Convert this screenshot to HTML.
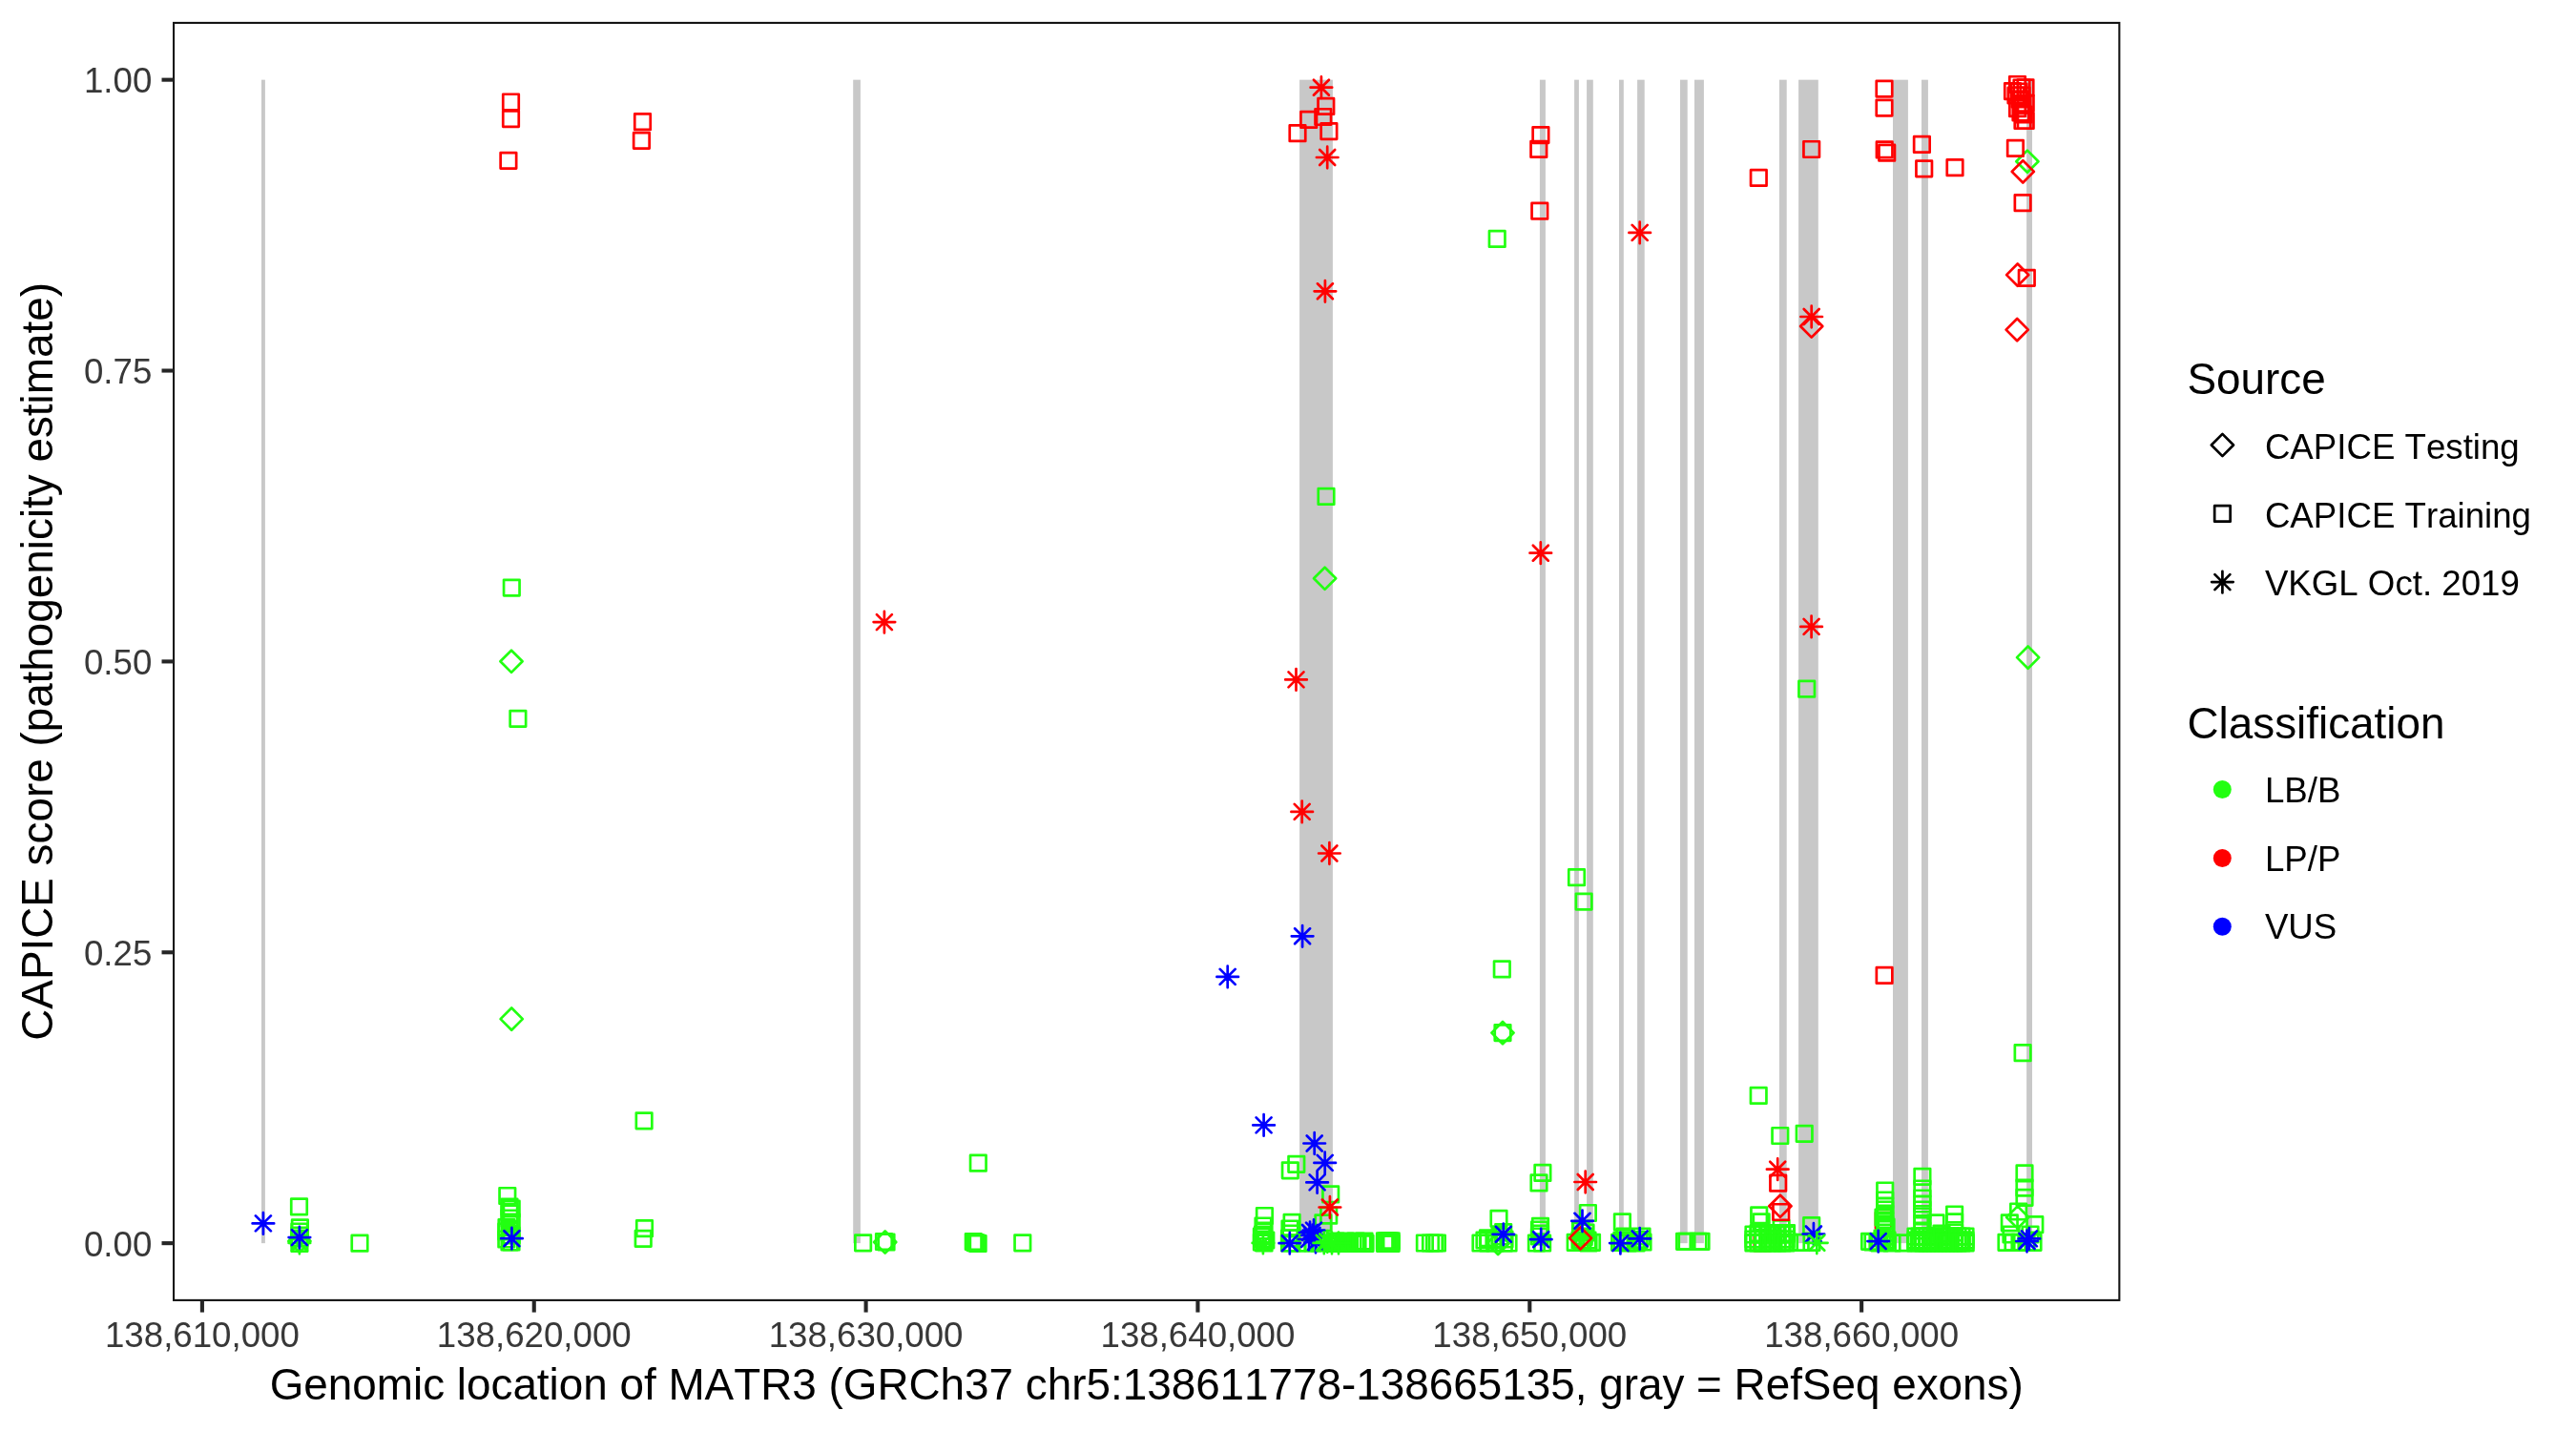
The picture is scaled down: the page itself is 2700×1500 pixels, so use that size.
<!DOCTYPE html>
<html><head><meta charset="utf-8"><title>CAPICE MATR3</title>
<style>
html,body{margin:0;padding:0;background:#fff;}
svg{display:block;will-change:transform;}
text{font-family:"Liberation Sans",sans-serif;font-kerning:none;font-feature-settings:"kern" 0;}
</style></head><body>
<svg width="2700" height="1500" viewBox="0 0 2700 1500">
<rect x="0" y="0" width="2700" height="1500" fill="#fff"/>

<g fill="#c8c8c8">
<rect x="274.0" y="83.65" width="3.90" height="1219.50"/>
<rect x="894.2" y="83.65" width="7.70" height="1219.50"/>
<rect x="1362.1" y="83.65" width="34.80" height="1219.50"/>
<rect x="1613.9" y="83.65" width="6.00" height="1219.50"/>
<rect x="1650.1" y="83.65" width="4.80" height="1219.50"/>
<rect x="1663.1" y="83.65" width="6.70" height="1219.50"/>
<rect x="1697.0" y="83.65" width="4.80" height="1219.50"/>
<rect x="1716.1" y="83.65" width="7.60" height="1219.50"/>
<rect x="1761.0" y="83.65" width="7.70" height="1219.50"/>
<rect x="1776.0" y="83.65" width="9.90" height="1219.50"/>
<rect x="1864.9" y="83.65" width="7.80" height="1219.50"/>
<rect x="1885.1" y="83.65" width="20.70" height="1219.50"/>
<rect x="1984.0" y="83.65" width="15.90" height="1219.50"/>
<rect x="2014.0" y="83.65" width="6.90" height="1219.50"/>
<rect x="2124.1" y="83.65" width="5.90" height="1219.50"/>
</g>
<g fill="none" stroke-width="2.7" stroke-linejoin="round" stroke-linecap="round">
<rect x="1965.95" y="1271.05" width="16.5" height="16.5" stroke="#ff0000"/>
<rect x="1838.75" y="1294.75" width="16.5" height="16.5" stroke="#ff0000"/>
<rect x="528.05" y="607.85" width="16.5" height="16.5" stroke="#22ff11"/>
<path d="M536.00 681.70L547.60 693.30L536.00 704.90L524.40 693.30Z" stroke="#22ff11"/>
<rect x="534.65" y="745.05" width="16.5" height="16.5" stroke="#22ff11"/>
<path d="M536.20 1056.50L547.80 1068.10L536.20 1079.70L524.60 1068.10Z" stroke="#22ff11"/>
<rect x="666.85" y="1166.55" width="16.5" height="16.5" stroke="#22ff11"/>
<rect x="305.25" y="1256.65" width="16.5" height="16.5" stroke="#22ff11"/>
<rect x="306.15" y="1278.55" width="16.5" height="16.5" stroke="#22ff11"/>
<rect x="305.65" y="1282.75" width="16.5" height="16.5" stroke="#22ff11"/>
<rect x="305.65" y="1286.75" width="16.5" height="16.5" stroke="#22ff11"/>
<rect x="305.65" y="1289.75" width="16.5" height="16.5" stroke="#22ff11"/>
<rect x="305.65" y="1295.15" width="16.5" height="16.5" stroke="#22ff11"/>
<path d="M313.90 1289.40L325.50 1301.00L313.90 1312.60L302.30 1301.00Z" stroke="#22ff11"/>
<path d="M302.60 1303.00H325.20M313.90 1291.70V1314.30M305.91 1295.01L321.89 1310.99M305.91 1310.99L321.89 1295.01" stroke="#22ff11"/>
<rect x="368.75" y="1294.95" width="16.5" height="16.5" stroke="#22ff11"/>
<rect x="523.55" y="1245.25" width="16.5" height="16.5" stroke="#22ff11"/>
<rect x="527.95" y="1258.75" width="16.5" height="16.5" stroke="#22ff11"/>
<rect x="525.75" y="1256.75" width="16.5" height="16.5" stroke="#22ff11"/>
<rect x="525.75" y="1263.75" width="16.5" height="16.5" stroke="#22ff11"/>
<rect x="525.75" y="1268.75" width="16.5" height="16.5" stroke="#22ff11"/>
<rect x="527.95" y="1272.75" width="16.5" height="16.5" stroke="#22ff11"/>
<rect x="522.75" y="1278.25" width="16.5" height="16.5" stroke="#22ff11"/>
<rect x="525.75" y="1281.75" width="16.5" height="16.5" stroke="#22ff11"/>
<rect x="527.95" y="1286.75" width="16.5" height="16.5" stroke="#22ff11"/>
<rect x="522.55" y="1282.75" width="16.5" height="16.5" stroke="#22ff11"/>
<rect x="522.55" y="1290.75" width="16.5" height="16.5" stroke="#22ff11"/>
<rect x="525.75" y="1293.75" width="16.5" height="16.5" stroke="#22ff11"/>
<rect x="527.75" y="1293.75" width="16.5" height="16.5" stroke="#22ff11"/>
<rect x="667.25" y="1279.45" width="16.5" height="16.5" stroke="#22ff11"/>
<rect x="665.95" y="1290.05" width="16.5" height="16.5" stroke="#22ff11"/>
<rect x="1017.05" y="1210.95" width="16.5" height="16.5" stroke="#22ff11"/>
<rect x="896.35" y="1294.55" width="16.5" height="16.5" stroke="#22ff11"/>
<rect x="918.25" y="1293.25" width="16.5" height="16.5" stroke="#22ff11"/>
<rect x="920.75" y="1293.75" width="16.5" height="16.5" stroke="#22ff11"/>
<path d="M927.70 1290.40L939.30 1302.00L927.70 1313.60L916.10 1302.00Z" stroke="#22ff11"/>
<rect x="1012.05" y="1293.25" width="16.5" height="16.5" stroke="#22ff11"/>
<rect x="1013.75" y="1294.25" width="16.5" height="16.5" stroke="#22ff11"/>
<rect x="1015.25" y="1294.75" width="16.5" height="16.5" stroke="#22ff11"/>
<rect x="1016.85" y="1295.25" width="16.5" height="16.5" stroke="#22ff11"/>
<rect x="1063.55" y="1294.55" width="16.5" height="16.5" stroke="#22ff11"/>
<rect x="1560.95" y="242.15" width="16.5" height="16.5" stroke="#22ff11"/>
<rect x="1381.75" y="512.15" width="16.5" height="16.5" stroke="#22ff11"/>
<path d="M1388.60 594.70L1400.20 606.30L1388.60 617.90L1377.00 606.30Z" stroke="#22ff11"/>
<rect x="1644.25" y="911.45" width="16.5" height="16.5" stroke="#22ff11"/>
<rect x="1651.85" y="936.85" width="16.5" height="16.5" stroke="#22ff11"/>
<rect x="1566.05" y="1007.65" width="16.5" height="16.5" stroke="#22ff11"/>
<rect x="1566.75" y="1074.35" width="16.5" height="16.5" stroke="#22ff11"/>
<path d="M1575.00 1071.00L1586.60 1082.60L1575.00 1094.20L1563.40 1082.60Z" stroke="#22ff11"/>
<path d="M2124.90 157.60L2136.50 169.20L2124.90 180.80L2113.30 169.20Z" stroke="#22ff11"/>
<rect x="1885.45" y="713.95" width="16.5" height="16.5" stroke="#22ff11"/>
<path d="M2125.60 677.50L2137.20 689.10L2125.60 700.70L2114.00 689.10Z" stroke="#22ff11"/>
<rect x="2111.85" y="1095.45" width="16.5" height="16.5" stroke="#22ff11"/>
<rect x="1834.95" y="1140.15" width="16.5" height="16.5" stroke="#22ff11"/>
<rect x="1857.55" y="1182.25" width="16.5" height="16.5" stroke="#22ff11"/>
<rect x="1882.95" y="1180.05" width="16.5" height="16.5" stroke="#22ff11"/>
<rect x="1350.55" y="1212.05" width="16.5" height="16.5" stroke="#22ff11"/>
<rect x="1344.05" y="1218.55" width="16.5" height="16.5" stroke="#22ff11"/>
<rect x="1386.45" y="1243.65" width="16.5" height="16.5" stroke="#22ff11"/>
<rect x="1384.45" y="1265.95" width="16.5" height="16.5" stroke="#22ff11"/>
<rect x="1378.65" y="1273.65" width="16.5" height="16.5" stroke="#22ff11"/>
<rect x="1317.15" y="1266.25" width="16.5" height="16.5" stroke="#22ff11"/>
<rect x="1315.75" y="1276.75" width="16.5" height="16.5" stroke="#22ff11"/>
<rect x="1316.75" y="1281.75" width="16.5" height="16.5" stroke="#22ff11"/>
<rect x="1315.25" y="1285.75" width="16.5" height="16.5" stroke="#22ff11"/>
<rect x="1315.75" y="1290.75" width="16.5" height="16.5" stroke="#22ff11"/>
<rect x="1316.75" y="1294.75" width="16.5" height="16.5" stroke="#22ff11"/>
<rect x="1314.15" y="1293.75" width="16.5" height="16.5" stroke="#22ff11"/>
<rect x="1318.55" y="1291.75" width="16.5" height="16.5" stroke="#22ff11"/>
<rect x="1314.15" y="1287.75" width="16.5" height="16.5" stroke="#22ff11"/>
<path d="M1312.60 1302.90H1335.20M1323.90 1291.60V1314.20M1315.91 1294.91L1331.89 1310.89M1315.91 1310.89L1331.89 1294.91" stroke="#22ff11"/>
<rect x="1345.85" y="1273.15" width="16.5" height="16.5" stroke="#22ff11"/>
<rect x="1343.75" y="1279.75" width="16.5" height="16.5" stroke="#22ff11"/>
<rect x="1344.75" y="1284.75" width="16.5" height="16.5" stroke="#22ff11"/>
<rect x="1343.25" y="1289.75" width="16.5" height="16.5" stroke="#22ff11"/>
<rect x="1345.75" y="1294.75" width="16.5" height="16.5" stroke="#22ff11"/>
<rect x="1343.25" y="1294.75" width="16.5" height="16.5" stroke="#22ff11"/>
<rect x="1351.75" y="1294.75" width="16.5" height="16.5" stroke="#22ff11"/>
<rect x="1359.75" y="1294.75" width="16.5" height="16.5" stroke="#22ff11"/>
<rect x="1367.75" y="1294.75" width="16.5" height="16.5" stroke="#22ff11"/>
<rect x="1374.75" y="1294.75" width="16.5" height="16.5" stroke="#22ff11"/>
<rect x="1389.75" y="1295.05" width="16.5" height="16.5" stroke="#22ff11"/>
<rect x="1394.75" y="1295.05" width="16.5" height="16.5" stroke="#22ff11"/>
<rect x="1399.75" y="1295.05" width="16.5" height="16.5" stroke="#22ff11"/>
<rect x="1404.75" y="1295.05" width="16.5" height="16.5" stroke="#22ff11"/>
<rect x="1409.75" y="1295.05" width="16.5" height="16.5" stroke="#22ff11"/>
<rect x="1414.75" y="1295.05" width="16.5" height="16.5" stroke="#22ff11"/>
<rect x="1419.75" y="1295.05" width="16.5" height="16.5" stroke="#22ff11"/>
<rect x="1422.75" y="1295.05" width="16.5" height="16.5" stroke="#22ff11"/>
<rect x="1391.75" y="1292.75" width="16.5" height="16.5" stroke="#22ff11"/>
<rect x="1401.75" y="1292.75" width="16.5" height="16.5" stroke="#22ff11"/>
<rect x="1412.75" y="1292.75" width="16.5" height="16.5" stroke="#22ff11"/>
<rect x="1421.75" y="1292.75" width="16.5" height="16.5" stroke="#22ff11"/>
<path d="M1391.70 1303.00H1414.30M1403.00 1291.70V1314.30M1395.01 1295.01L1410.99 1310.99M1395.01 1310.99L1410.99 1295.01" stroke="#22ff11"/>
<rect x="1443.25" y="1292.55" width="16.5" height="16.5" stroke="#22ff11"/>
<rect x="1443.25" y="1295.05" width="16.5" height="16.5" stroke="#22ff11"/>
<rect x="1445.25" y="1292.55" width="16.5" height="16.5" stroke="#22ff11"/>
<rect x="1445.25" y="1295.05" width="16.5" height="16.5" stroke="#22ff11"/>
<rect x="1447.75" y="1292.55" width="16.5" height="16.5" stroke="#22ff11"/>
<rect x="1447.75" y="1295.05" width="16.5" height="16.5" stroke="#22ff11"/>
<rect x="1449.95" y="1292.55" width="16.5" height="16.5" stroke="#22ff11"/>
<rect x="1449.95" y="1295.05" width="16.5" height="16.5" stroke="#22ff11"/>
<rect x="1485.15" y="1294.75" width="16.5" height="16.5" stroke="#22ff11"/>
<rect x="1491.25" y="1294.75" width="16.5" height="16.5" stroke="#22ff11"/>
<rect x="1495.25" y="1294.75" width="16.5" height="16.5" stroke="#22ff11"/>
<rect x="1498.15" y="1294.75" width="16.5" height="16.5" stroke="#22ff11"/>
<rect x="1562.75" y="1269.05" width="16.5" height="16.5" stroke="#22ff11"/>
<rect x="1543.75" y="1294.75" width="16.5" height="16.5" stroke="#22ff11"/>
<rect x="1551.75" y="1294.75" width="16.5" height="16.5" stroke="#22ff11"/>
<rect x="1558.75" y="1294.75" width="16.5" height="16.5" stroke="#22ff11"/>
<rect x="1568.05" y="1294.75" width="16.5" height="16.5" stroke="#22ff11"/>
<rect x="1551.25" y="1289.55" width="16.5" height="16.5" stroke="#22ff11"/>
<rect x="1567.45" y="1283.35" width="16.5" height="16.5" stroke="#22ff11"/>
<rect x="1563.75" y="1287.75" width="16.5" height="16.5" stroke="#22ff11"/>
<rect x="1568.75" y="1290.75" width="16.5" height="16.5" stroke="#22ff11"/>
<rect x="1572.75" y="1294.75" width="16.5" height="16.5" stroke="#22ff11"/>
<rect x="1557.75" y="1291.75" width="16.5" height="16.5" stroke="#22ff11"/>
<rect x="1547.75" y="1291.75" width="16.5" height="16.5" stroke="#22ff11"/>
<path d="M1570.10 1291.80L1581.70 1303.40L1570.10 1315.00L1558.50 1303.40Z" stroke="#22ff11"/>
<rect x="1608.65" y="1221.15" width="16.5" height="16.5" stroke="#22ff11"/>
<rect x="1604.75" y="1231.65" width="16.5" height="16.5" stroke="#22ff11"/>
<rect x="1606.25" y="1277.15" width="16.5" height="16.5" stroke="#22ff11"/>
<rect x="1605.25" y="1280.75" width="16.5" height="16.5" stroke="#22ff11"/>
<rect x="1606.25" y="1284.75" width="16.5" height="16.5" stroke="#22ff11"/>
<rect x="1602.15" y="1294.75" width="16.5" height="16.5" stroke="#22ff11"/>
<rect x="1608.35" y="1294.75" width="16.5" height="16.5" stroke="#22ff11"/>
<rect x="1605.25" y="1287.75" width="16.5" height="16.5" stroke="#22ff11"/>
<rect x="1656.15" y="1263.25" width="16.5" height="16.5" stroke="#22ff11"/>
<rect x="1648.25" y="1280.35" width="16.5" height="16.5" stroke="#22ff11"/>
<rect x="1642.95" y="1294.05" width="16.5" height="16.5" stroke="#22ff11"/>
<rect x="1647.75" y="1291.75" width="16.5" height="16.5" stroke="#22ff11"/>
<rect x="1651.75" y="1288.75" width="16.5" height="16.5" stroke="#22ff11"/>
<rect x="1655.75" y="1291.75" width="16.5" height="16.5" stroke="#22ff11"/>
<rect x="1660.25" y="1294.05" width="16.5" height="16.5" stroke="#22ff11"/>
<rect x="1653.75" y="1283.75" width="16.5" height="16.5" stroke="#22ff11"/>
<rect x="1648.75" y="1281.75" width="16.5" height="16.5" stroke="#22ff11"/>
<rect x="1650.25" y="1294.05" width="16.5" height="16.5" stroke="#22ff11"/>
<rect x="1656.75" y="1294.75" width="16.5" height="16.5" stroke="#22ff11"/>
<rect x="1651.75" y="1287.75" width="16.5" height="16.5" stroke="#22ff11"/>
<rect x="1692.15" y="1272.55" width="16.5" height="16.5" stroke="#22ff11"/>
<rect x="1689.35" y="1294.05" width="16.5" height="16.5" stroke="#22ff11"/>
<rect x="1696.75" y="1294.05" width="16.5" height="16.5" stroke="#22ff11"/>
<rect x="1709.95" y="1291.15" width="16.5" height="16.5" stroke="#22ff11"/>
<rect x="1713.75" y="1293.75" width="16.5" height="16.5" stroke="#22ff11"/>
<rect x="1694.75" y="1287.75" width="16.5" height="16.5" stroke="#22ff11"/>
<rect x="1701.75" y="1291.75" width="16.5" height="16.5" stroke="#22ff11"/>
<rect x="1706.75" y="1294.75" width="16.5" height="16.5" stroke="#22ff11"/>
<rect x="1697.75" y="1294.75" width="16.5" height="16.5" stroke="#22ff11"/>
<rect x="1712.75" y="1287.75" width="16.5" height="16.5" stroke="#22ff11"/>
<rect x="1691.75" y="1291.75" width="16.5" height="16.5" stroke="#22ff11"/>
<rect x="1757.35" y="1293.05" width="16.5" height="16.5" stroke="#22ff11"/>
<rect x="1759.75" y="1293.05" width="16.5" height="16.5" stroke="#22ff11"/>
<rect x="1771.75" y="1293.05" width="16.5" height="16.5" stroke="#22ff11"/>
<rect x="1774.75" y="1293.05" width="16.5" height="16.5" stroke="#22ff11"/>
<rect x="1835.45" y="1265.65" width="16.5" height="16.5" stroke="#22ff11"/>
<rect x="1837.85" y="1272.55" width="16.5" height="16.5" stroke="#22ff11"/>
<rect x="1858.85" y="1279.35" width="16.5" height="16.5" stroke="#22ff11"/>
<rect x="1830.05" y="1294.05" width="16.5" height="16.5" stroke="#22ff11"/>
<rect x="1839.85" y="1294.05" width="16.5" height="16.5" stroke="#22ff11"/>
<rect x="1849.55" y="1294.05" width="16.5" height="16.5" stroke="#22ff11"/>
<rect x="1859.35" y="1294.05" width="16.5" height="16.5" stroke="#22ff11"/>
<rect x="1867.25" y="1294.05" width="16.5" height="16.5" stroke="#22ff11"/>
<rect x="1834.95" y="1284.25" width="16.5" height="16.5" stroke="#22ff11"/>
<rect x="1844.75" y="1284.25" width="16.5" height="16.5" stroke="#22ff11"/>
<rect x="1853.75" y="1284.25" width="16.5" height="16.5" stroke="#22ff11"/>
<rect x="1864.25" y="1284.25" width="16.5" height="16.5" stroke="#22ff11"/>
<rect x="1829.75" y="1285.75" width="16.5" height="16.5" stroke="#22ff11"/>
<rect x="1829.75" y="1290.75" width="16.5" height="16.5" stroke="#22ff11"/>
<rect x="1829.75" y="1294.75" width="16.5" height="16.5" stroke="#22ff11"/>
<rect x="1834.75" y="1285.75" width="16.5" height="16.5" stroke="#22ff11"/>
<rect x="1834.75" y="1290.75" width="16.5" height="16.5" stroke="#22ff11"/>
<rect x="1834.75" y="1294.75" width="16.5" height="16.5" stroke="#22ff11"/>
<rect x="1839.75" y="1285.75" width="16.5" height="16.5" stroke="#22ff11"/>
<rect x="1839.75" y="1290.75" width="16.5" height="16.5" stroke="#22ff11"/>
<rect x="1839.75" y="1294.75" width="16.5" height="16.5" stroke="#22ff11"/>
<rect x="1844.75" y="1285.75" width="16.5" height="16.5" stroke="#22ff11"/>
<rect x="1844.75" y="1290.75" width="16.5" height="16.5" stroke="#22ff11"/>
<rect x="1844.75" y="1294.75" width="16.5" height="16.5" stroke="#22ff11"/>
<rect x="1849.75" y="1285.75" width="16.5" height="16.5" stroke="#22ff11"/>
<rect x="1849.75" y="1290.75" width="16.5" height="16.5" stroke="#22ff11"/>
<rect x="1849.75" y="1294.75" width="16.5" height="16.5" stroke="#22ff11"/>
<rect x="1854.75" y="1285.75" width="16.5" height="16.5" stroke="#22ff11"/>
<rect x="1854.75" y="1290.75" width="16.5" height="16.5" stroke="#22ff11"/>
<rect x="1854.75" y="1294.75" width="16.5" height="16.5" stroke="#22ff11"/>
<rect x="1859.75" y="1285.75" width="16.5" height="16.5" stroke="#22ff11"/>
<rect x="1859.75" y="1290.75" width="16.5" height="16.5" stroke="#22ff11"/>
<rect x="1859.75" y="1294.75" width="16.5" height="16.5" stroke="#22ff11"/>
<rect x="1863.75" y="1285.75" width="16.5" height="16.5" stroke="#22ff11"/>
<rect x="1863.75" y="1290.75" width="16.5" height="16.5" stroke="#22ff11"/>
<rect x="1863.75" y="1294.75" width="16.5" height="16.5" stroke="#22ff11"/>
<rect x="1878.95" y="1294.05" width="16.5" height="16.5" stroke="#22ff11"/>
<rect x="1890.75" y="1294.05" width="16.5" height="16.5" stroke="#22ff11"/>
<rect x="1890.45" y="1276.45" width="16.5" height="16.5" stroke="#22ff11"/>
<rect x="1951.35" y="1293.05" width="16.5" height="16.5" stroke="#22ff11"/>
<rect x="1967.45" y="1239.75" width="16.5" height="16.5" stroke="#22ff11"/>
<rect x="1967.45" y="1249.75" width="16.5" height="16.5" stroke="#22ff11"/>
<rect x="1967.45" y="1255.75" width="16.5" height="16.5" stroke="#22ff11"/>
<rect x="1967.45" y="1259.75" width="16.5" height="16.5" stroke="#22ff11"/>
<rect x="1967.45" y="1263.75" width="16.5" height="16.5" stroke="#22ff11"/>
<rect x="1967.45" y="1274.75" width="16.5" height="16.5" stroke="#22ff11"/>
<rect x="1967.45" y="1279.75" width="16.5" height="16.5" stroke="#22ff11"/>
<rect x="1967.45" y="1283.75" width="16.5" height="16.5" stroke="#22ff11"/>
<rect x="1967.45" y="1287.75" width="16.5" height="16.5" stroke="#22ff11"/>
<rect x="1967.45" y="1293.75" width="16.5" height="16.5" stroke="#22ff11"/>
<rect x="1965.75" y="1267.75" width="16.5" height="16.5" stroke="#22ff11"/>
<rect x="1968.75" y="1277.75" width="16.5" height="16.5" stroke="#22ff11"/>
<rect x="1964.75" y="1289.75" width="16.5" height="16.5" stroke="#22ff11"/>
<rect x="1969.75" y="1291.75" width="16.5" height="16.5" stroke="#22ff11"/>
<rect x="1974.75" y="1294.75" width="16.5" height="16.5" stroke="#22ff11"/>
<rect x="1954.75" y="1293.75" width="16.5" height="16.5" stroke="#22ff11"/>
<rect x="1961.75" y="1294.75" width="16.5" height="16.5" stroke="#22ff11"/>
<rect x="1967.45" y="1270.75" width="16.5" height="16.5" stroke="#22ff11"/>
<rect x="1959.75" y="1293.75" width="16.5" height="16.5" stroke="#22ff11"/>
<rect x="1986.55" y="1294.55" width="16.5" height="16.5" stroke="#22ff11"/>
<rect x="2006.65" y="1225.05" width="16.5" height="16.5" stroke="#22ff11"/>
<rect x="2006.65" y="1237.75" width="16.5" height="16.5" stroke="#22ff11"/>
<rect x="2006.65" y="1247.75" width="16.5" height="16.5" stroke="#22ff11"/>
<rect x="2006.65" y="1253.75" width="16.5" height="16.5" stroke="#22ff11"/>
<rect x="2006.65" y="1259.75" width="16.5" height="16.5" stroke="#22ff11"/>
<rect x="2006.65" y="1266.75" width="16.5" height="16.5" stroke="#22ff11"/>
<rect x="2006.65" y="1274.45" width="16.5" height="16.5" stroke="#22ff11"/>
<rect x="2006.65" y="1281.75" width="16.5" height="16.5" stroke="#22ff11"/>
<rect x="2006.65" y="1287.75" width="16.5" height="16.5" stroke="#22ff11"/>
<rect x="2006.65" y="1294.05" width="16.5" height="16.5" stroke="#22ff11"/>
<rect x="1999.75" y="1287.75" width="16.5" height="16.5" stroke="#22ff11"/>
<rect x="1999.75" y="1291.75" width="16.5" height="16.5" stroke="#22ff11"/>
<rect x="1999.75" y="1294.75" width="16.5" height="16.5" stroke="#22ff11"/>
<rect x="2003.75" y="1287.75" width="16.5" height="16.5" stroke="#22ff11"/>
<rect x="2003.75" y="1291.75" width="16.5" height="16.5" stroke="#22ff11"/>
<rect x="2003.75" y="1294.75" width="16.5" height="16.5" stroke="#22ff11"/>
<rect x="2007.75" y="1287.75" width="16.5" height="16.5" stroke="#22ff11"/>
<rect x="2007.75" y="1291.75" width="16.5" height="16.5" stroke="#22ff11"/>
<rect x="2007.75" y="1294.75" width="16.5" height="16.5" stroke="#22ff11"/>
<rect x="2011.75" y="1287.75" width="16.5" height="16.5" stroke="#22ff11"/>
<rect x="2011.75" y="1291.75" width="16.5" height="16.5" stroke="#22ff11"/>
<rect x="2011.75" y="1294.75" width="16.5" height="16.5" stroke="#22ff11"/>
<rect x="2015.75" y="1287.75" width="16.5" height="16.5" stroke="#22ff11"/>
<rect x="2015.75" y="1291.75" width="16.5" height="16.5" stroke="#22ff11"/>
<rect x="2015.75" y="1294.75" width="16.5" height="16.5" stroke="#22ff11"/>
<rect x="2019.75" y="1287.75" width="16.5" height="16.5" stroke="#22ff11"/>
<rect x="2019.75" y="1291.75" width="16.5" height="16.5" stroke="#22ff11"/>
<rect x="2019.75" y="1294.75" width="16.5" height="16.5" stroke="#22ff11"/>
<rect x="2023.75" y="1287.75" width="16.5" height="16.5" stroke="#22ff11"/>
<rect x="2023.75" y="1291.75" width="16.5" height="16.5" stroke="#22ff11"/>
<rect x="2023.75" y="1294.75" width="16.5" height="16.5" stroke="#22ff11"/>
<rect x="2027.75" y="1287.75" width="16.5" height="16.5" stroke="#22ff11"/>
<rect x="2027.75" y="1291.75" width="16.5" height="16.5" stroke="#22ff11"/>
<rect x="2027.75" y="1294.75" width="16.5" height="16.5" stroke="#22ff11"/>
<rect x="2031.75" y="1287.75" width="16.5" height="16.5" stroke="#22ff11"/>
<rect x="2031.75" y="1291.75" width="16.5" height="16.5" stroke="#22ff11"/>
<rect x="2031.75" y="1294.75" width="16.5" height="16.5" stroke="#22ff11"/>
<rect x="2035.75" y="1287.75" width="16.5" height="16.5" stroke="#22ff11"/>
<rect x="2035.75" y="1291.75" width="16.5" height="16.5" stroke="#22ff11"/>
<rect x="2035.75" y="1294.75" width="16.5" height="16.5" stroke="#22ff11"/>
<rect x="2039.75" y="1287.75" width="16.5" height="16.5" stroke="#22ff11"/>
<rect x="2039.75" y="1291.75" width="16.5" height="16.5" stroke="#22ff11"/>
<rect x="2039.75" y="1294.75" width="16.5" height="16.5" stroke="#22ff11"/>
<rect x="2043.75" y="1287.75" width="16.5" height="16.5" stroke="#22ff11"/>
<rect x="2043.75" y="1291.75" width="16.5" height="16.5" stroke="#22ff11"/>
<rect x="2043.75" y="1294.75" width="16.5" height="16.5" stroke="#22ff11"/>
<rect x="2047.75" y="1287.75" width="16.5" height="16.5" stroke="#22ff11"/>
<rect x="2047.75" y="1291.75" width="16.5" height="16.5" stroke="#22ff11"/>
<rect x="2047.75" y="1294.75" width="16.5" height="16.5" stroke="#22ff11"/>
<rect x="2051.75" y="1287.75" width="16.5" height="16.5" stroke="#22ff11"/>
<rect x="2051.75" y="1291.75" width="16.5" height="16.5" stroke="#22ff11"/>
<rect x="2051.75" y="1294.75" width="16.5" height="16.5" stroke="#22ff11"/>
<rect x="2020.75" y="1273.55" width="16.5" height="16.5" stroke="#22ff11"/>
<rect x="2040.35" y="1264.75" width="16.5" height="16.5" stroke="#22ff11"/>
<rect x="2040.35" y="1272.55" width="16.5" height="16.5" stroke="#22ff11"/>
<rect x="2040.35" y="1283.75" width="16.5" height="16.5" stroke="#22ff11"/>
<rect x="2040.35" y="1294.05" width="16.5" height="16.5" stroke="#22ff11"/>
<rect x="1999.75" y="1294.05" width="16.5" height="16.5" stroke="#22ff11"/>
<rect x="2011.75" y="1294.05" width="16.5" height="16.5" stroke="#22ff11"/>
<rect x="2016.75" y="1294.05" width="16.5" height="16.5" stroke="#22ff11"/>
<rect x="2023.75" y="1294.05" width="16.5" height="16.5" stroke="#22ff11"/>
<rect x="2029.75" y="1294.05" width="16.5" height="16.5" stroke="#22ff11"/>
<rect x="2033.75" y="1294.05" width="16.5" height="16.5" stroke="#22ff11"/>
<rect x="2046.75" y="1294.05" width="16.5" height="16.5" stroke="#22ff11"/>
<rect x="2051.75" y="1294.05" width="16.5" height="16.5" stroke="#22ff11"/>
<rect x="2026.75" y="1284.75" width="16.5" height="16.5" stroke="#22ff11"/>
<rect x="2113.75" y="1221.65" width="16.5" height="16.5" stroke="#22ff11"/>
<rect x="2113.75" y="1236.85" width="16.5" height="16.5" stroke="#22ff11"/>
<rect x="2113.75" y="1247.05" width="16.5" height="16.5" stroke="#22ff11"/>
<rect x="2107.35" y="1261.75" width="16.5" height="16.5" stroke="#22ff11"/>
<rect x="2098.05" y="1273.55" width="16.5" height="16.5" stroke="#22ff11"/>
<rect x="2124.55" y="1275.45" width="16.5" height="16.5" stroke="#22ff11"/>
<path d="M2114.70 1264.40L2126.30 1276.00L2114.70 1287.60L2103.10 1276.00Z" stroke="#22ff11"/>
<rect x="2094.75" y="1294.05" width="16.5" height="16.5" stroke="#22ff11"/>
<rect x="2101.75" y="1294.05" width="16.5" height="16.5" stroke="#22ff11"/>
<rect x="2108.75" y="1294.05" width="16.5" height="16.5" stroke="#22ff11"/>
<rect x="2115.75" y="1294.05" width="16.5" height="16.5" stroke="#22ff11"/>
<rect x="2122.75" y="1294.05" width="16.5" height="16.5" stroke="#22ff11"/>
<rect x="2099.75" y="1285.75" width="16.5" height="16.5" stroke="#22ff11"/>
<rect x="2119.75" y="1285.75" width="16.5" height="16.5" stroke="#22ff11"/>
<rect x="527.25" y="98.75" width="16.5" height="16.5" stroke="#ff0000"/>
<rect x="527.25" y="116.35" width="16.5" height="16.5" stroke="#ff0000"/>
<rect x="524.65" y="160.05" width="16.5" height="16.5" stroke="#ff0000"/>
<rect x="665.25" y="119.45" width="16.5" height="16.5" stroke="#ff0000"/>
<rect x="664.15" y="139.05" width="16.5" height="16.5" stroke="#ff0000"/>
<path d="M915.60 652.10H938.20M926.90 640.80V663.40M918.91 644.11L934.89 660.09M918.91 660.09L934.89 644.11" stroke="#ff0000"/>
<path d="M1373.60 91.70H1396.20M1384.90 80.40V103.00M1376.91 83.71L1392.89 99.69M1376.91 99.69L1392.89 83.71" stroke="#ff0000"/>
<rect x="1381.55" y="103.15" width="16.5" height="16.5" stroke="#ff0000"/>
<rect x="1363.45" y="117.15" width="16.5" height="16.5" stroke="#ff0000"/>
<rect x="1378.55" y="114.25" width="16.5" height="16.5" stroke="#ff0000"/>
<rect x="1351.75" y="131.45" width="16.5" height="16.5" stroke="#ff0000"/>
<rect x="1384.65" y="129.35" width="16.5" height="16.5" stroke="#ff0000"/>
<path d="M1379.90 165.00H1402.50M1391.20 153.70V176.30M1383.21 157.01L1399.19 172.99M1383.21 172.99L1399.19 157.01" stroke="#ff0000"/>
<path d="M1377.60 305.30H1400.20M1388.90 294.00V316.60M1380.91 297.31L1396.89 313.29M1380.91 313.29L1396.89 297.31" stroke="#ff0000"/>
<rect x="1606.65" y="133.35" width="16.5" height="16.5" stroke="#ff0000"/>
<rect x="1604.55" y="148.15" width="16.5" height="16.5" stroke="#ff0000"/>
<rect x="1605.55" y="212.95" width="16.5" height="16.5" stroke="#ff0000"/>
<path d="M1707.40 243.90H1730.00M1718.70 232.60V255.20M1710.71 235.91L1726.69 251.89M1710.71 251.89L1726.69 235.91" stroke="#ff0000"/>
<path d="M1603.50 579.70H1626.10M1614.80 568.40V591.00M1606.81 571.71L1622.79 587.69M1606.81 587.69L1622.79 571.71" stroke="#ff0000"/>
<path d="M1347.20 712.40H1369.80M1358.50 701.10V723.70M1350.51 704.41L1366.49 720.39M1350.51 720.39L1366.49 704.41" stroke="#ff0000"/>
<path d="M1353.40 850.90H1376.00M1364.70 839.60V862.20M1356.71 842.91L1372.69 858.89M1356.71 858.89L1372.69 842.91" stroke="#ff0000"/>
<path d="M1382.10 894.50H1404.70M1393.40 883.20V905.80M1385.41 886.51L1401.39 902.49M1385.41 902.49L1401.39 886.51" stroke="#ff0000"/>
<rect x="1835.05" y="178.15" width="16.5" height="16.5" stroke="#ff0000"/>
<rect x="1890.45" y="148.25" width="16.5" height="16.5" stroke="#ff0000"/>
<rect x="1966.75" y="84.85" width="16.5" height="16.5" stroke="#ff0000"/>
<rect x="1966.75" y="104.85" width="16.5" height="16.5" stroke="#ff0000"/>
<rect x="1966.95" y="148.65" width="16.5" height="16.5" stroke="#ff0000"/>
<rect x="1969.45" y="151.95" width="16.5" height="16.5" stroke="#ff0000"/>
<rect x="2006.15" y="143.15" width="16.5" height="16.5" stroke="#ff0000"/>
<rect x="2008.45" y="168.55" width="16.5" height="16.5" stroke="#ff0000"/>
<rect x="2040.75" y="167.45" width="16.5" height="16.5" stroke="#ff0000"/>
<rect x="2106.25" y="80.25" width="16.5" height="16.5" stroke="#ff0000"/>
<rect x="2114.75" y="83.55" width="16.5" height="16.5" stroke="#ff0000"/>
<rect x="2101.25" y="87.35" width="16.5" height="16.5" stroke="#ff0000"/>
<rect x="2114.95" y="100.05" width="16.5" height="16.5" stroke="#ff0000"/>
<rect x="2106.35" y="105.45" width="16.5" height="16.5" stroke="#ff0000"/>
<rect x="2114.95" y="118.25" width="16.5" height="16.5" stroke="#ff0000"/>
<rect x="2111.75" y="118.25" width="16.5" height="16.5" stroke="#ff0000"/>
<rect x="2107.75" y="87.75" width="16.5" height="16.5" stroke="#ff0000"/>
<rect x="2110.75" y="91.75" width="16.5" height="16.5" stroke="#ff0000"/>
<rect x="2108.75" y="95.75" width="16.5" height="16.5" stroke="#ff0000"/>
<rect x="2111.75" y="101.75" width="16.5" height="16.5" stroke="#ff0000"/>
<rect x="2109.75" y="109.75" width="16.5" height="16.5" stroke="#ff0000"/>
<rect x="2112.75" y="111.75" width="16.5" height="16.5" stroke="#ff0000"/>
<rect x="2110.75" y="83.75" width="16.5" height="16.5" stroke="#ff0000"/>
<rect x="2104.75" y="91.75" width="16.5" height="16.5" stroke="#ff0000"/>
<rect x="2104.15" y="147.15" width="16.5" height="16.5" stroke="#ff0000"/>
<rect x="2111.85" y="204.45" width="16.5" height="16.5" stroke="#ff0000"/>
<rect x="2116.05" y="283.05" width="16.5" height="16.5" stroke="#ff0000"/>
<path d="M2120.30 168.30L2131.90 179.90L2120.30 191.50L2108.70 179.90Z" stroke="#ff0000"/>
<path d="M2114.70 276.50L2126.30 288.10L2114.70 299.70L2103.10 288.10Z" stroke="#ff0000"/>
<path d="M2114.20 334.00L2125.80 345.60L2114.20 357.20L2102.60 345.60Z" stroke="#ff0000"/>
<path d="M1898.70 330.40L1910.30 342.00L1898.70 353.60L1887.10 342.00Z" stroke="#ff0000"/>
<path d="M1887.40 332.00H1910.00M1898.70 320.70V343.30M1890.71 324.01L1906.69 339.99M1890.71 339.99L1906.69 324.01" stroke="#ff0000"/>
<path d="M1887.30 656.90H1909.90M1898.60 645.60V668.20M1890.61 648.91L1906.59 664.89M1890.61 664.89L1906.59 648.91" stroke="#ff0000"/>
<rect x="1966.85" y="1014.15" width="16.5" height="16.5" stroke="#ff0000"/>
<path d="M1382.60 1265.50H1405.20M1393.90 1254.20V1276.80M1385.91 1257.51L1401.89 1273.49M1385.91 1273.49L1401.89 1257.51" stroke="#ff0000"/>
<path d="M1650.40 1239.00H1673.00M1661.70 1227.70V1250.30M1653.71 1231.01L1669.69 1246.99M1653.71 1246.99L1669.69 1231.01" stroke="#ff0000"/>
<path d="M1656.50 1286.30L1668.10 1297.90L1656.50 1309.50L1644.90 1297.90Z" stroke="#ff0000"/>
<path d="M1851.90 1225.70H1874.50M1863.20 1214.40V1237.00M1855.21 1217.71L1871.19 1233.69M1855.21 1233.69L1871.19 1217.71" stroke="#ff0000"/>
<rect x="1855.45" y="1231.95" width="16.5" height="16.5" stroke="#ff0000"/>
<rect x="1858.45" y="1262.25" width="16.5" height="16.5" stroke="#ff0000"/>
<path d="M1865.90 1252.70L1877.50 1264.30L1865.90 1275.90L1854.30 1264.30Z" stroke="#ff0000"/>
<path d="M264.60 1282.40H287.20M275.90 1271.10V1293.70M267.91 1274.41L283.89 1290.39M267.91 1290.39L283.89 1274.41" stroke="#0000ff"/>
<path d="M302.60 1297.10H325.20M313.90 1285.80V1308.40M305.91 1289.11L321.89 1305.09M305.91 1305.09L321.89 1289.11" stroke="#0000ff"/>
<path d="M525.10 1298.20H547.70M536.40 1286.90V1309.50M528.41 1290.21L544.39 1306.19M528.41 1306.19L544.39 1290.21" stroke="#0000ff"/>
<path d="M1353.80 981.30H1376.40M1365.10 970.00V992.60M1357.11 973.31L1373.09 989.29M1357.11 989.29L1373.09 973.31" stroke="#0000ff"/>
<path d="M1275.40 1023.90H1298.00M1286.70 1012.60V1035.20M1278.71 1015.91L1294.69 1031.89M1278.71 1031.89L1294.69 1015.91" stroke="#0000ff"/>
<path d="M1313.30 1179.40H1335.90M1324.60 1168.10V1190.70M1316.61 1171.41L1332.59 1187.39M1316.61 1187.39L1332.59 1171.41" stroke="#0000ff"/>
<path d="M1366.40 1198.50H1389.00M1377.70 1187.20V1209.80M1369.71 1190.51L1385.69 1206.49M1369.71 1206.49L1385.69 1190.51" stroke="#0000ff"/>
<path d="M1377.40 1218.90H1400.00M1388.70 1207.60V1230.20M1380.71 1210.91L1396.69 1226.89M1380.71 1226.89L1396.69 1210.91" stroke="#0000ff"/>
<path d="M1369.30 1239.40H1391.90M1380.60 1228.10V1250.70M1372.61 1231.41L1388.59 1247.39M1372.61 1247.39L1388.59 1231.41" stroke="#0000ff"/>
<path d="M1340.50 1303.20H1363.10M1351.80 1291.90V1314.50M1343.81 1295.21L1359.79 1311.19M1343.81 1311.19L1359.79 1295.21" stroke="#0000ff"/>
<path d="M1365.70 1289.60H1388.30M1377.00 1278.30V1300.90M1369.01 1281.61L1384.99 1297.59M1369.01 1297.59L1384.99 1281.61" stroke="#0000ff"/>
<path d="M1361.70 1292.00H1384.30M1373.00 1280.70V1303.30M1365.01 1284.01L1380.99 1299.99M1365.01 1299.99L1380.99 1284.01" stroke="#0000ff"/>
<path d="M1364.20 1295.00H1386.80M1375.50 1283.70V1306.30M1367.51 1287.01L1383.49 1302.99M1367.51 1302.99L1383.49 1287.01" stroke="#0000ff"/>
<path d="M1360.70 1299.00H1383.30M1372.00 1287.70V1310.30M1364.01 1291.01L1379.99 1306.99M1364.01 1306.99L1379.99 1291.01" stroke="#0000ff"/>
<path d="M1367.70 1302.00H1390.30M1379.00 1290.70V1313.30M1371.01 1294.01L1386.99 1309.99M1371.01 1309.99L1386.99 1294.01" stroke="#0000ff"/>
<path d="M1564.50 1293.80H1587.10M1575.80 1282.50V1305.10M1567.81 1285.81L1583.79 1301.79M1567.81 1301.79L1583.79 1285.81" stroke="#0000ff"/>
<path d="M1603.90 1299.20H1626.50M1615.20 1287.90V1310.50M1607.21 1291.21L1623.19 1307.19M1607.21 1307.19L1623.19 1291.21" stroke="#0000ff"/>
<path d="M1647.20 1279.80H1669.80M1658.50 1268.50V1291.10M1650.51 1271.81L1666.49 1287.79M1650.51 1287.79L1666.49 1271.81" stroke="#0000ff"/>
<path d="M1687.10 1303.10H1709.70M1698.40 1291.80V1314.40M1690.41 1295.11L1706.39 1311.09M1690.41 1311.09L1706.39 1295.11" stroke="#0000ff"/>
<path d="M1707.40 1298.40H1730.00M1718.70 1287.10V1309.70M1710.71 1290.41L1726.69 1306.39M1710.71 1306.39L1726.69 1290.41" stroke="#0000ff"/>
<path d="M1889.60 1293.50H1912.20M1900.90 1282.20V1304.80M1892.91 1285.51L1908.89 1301.49M1892.91 1301.49L1908.89 1285.51" stroke="#0000ff"/>
<path d="M1957.40 1301.10H1980.00M1968.70 1289.80V1312.40M1960.71 1293.11L1976.69 1309.09M1960.71 1309.09L1976.69 1293.11" stroke="#0000ff"/>
<path d="M2115.60 1298.40H2138.20M2126.90 1287.10V1309.70M2118.91 1290.41L2134.89 1306.39M2118.91 1306.39L2134.89 1290.41" stroke="#0000ff"/>
<path d="M2113.20 1301.00H2135.80M2124.50 1289.70V1312.30M2116.51 1293.01L2132.49 1308.99M2116.51 1308.99L2132.49 1293.01" stroke="#0000ff"/>
<path d="M1376.50 1302.90H1399.10M1387.80 1291.60V1314.20M1379.81 1294.91L1395.79 1310.89M1379.81 1310.89L1395.79 1294.91" stroke="#22ff11"/>
<path d="M1380.00 1301.50H1402.60M1391.30 1290.20V1312.80M1383.31 1293.51L1399.29 1309.49M1383.31 1309.49L1399.29 1293.51" stroke="#22ff11"/>
<path d="M1384.70 1303.00H1407.30M1396.00 1291.70V1314.30M1388.01 1295.01L1403.99 1310.99M1388.01 1310.99L1403.99 1295.01" stroke="#22ff11"/>
<path d="M1893.00 1302.80H1915.60M1904.30 1291.50V1314.10M1896.31 1294.81L1912.29 1310.79M1896.31 1310.79L1912.29 1294.81" stroke="#22ff11"/>
</g>
<rect x="182.05" y="23.95" width="2039.30" height="1338.95" fill="none" stroke="#141414" stroke-width="2.1"/>
<g stroke="#262626" stroke-width="4.1">
<line x1="169.5" y1="1303.15" x2="182.05" y2="1303.15"/>
<line x1="169.5" y1="998.28" x2="182.05" y2="998.28"/>
<line x1="169.5" y1="693.40" x2="182.05" y2="693.40"/>
<line x1="169.5" y1="388.53" x2="182.05" y2="388.53"/>
<line x1="169.5" y1="83.65" x2="182.05" y2="83.65"/>
<line x1="211.90" y1="1362.9" x2="211.90" y2="1375.6"/>
<line x1="559.75" y1="1362.9" x2="559.75" y2="1375.6"/>
<line x1="907.60" y1="1362.9" x2="907.60" y2="1375.6"/>
<line x1="1255.45" y1="1362.9" x2="1255.45" y2="1375.6"/>
<line x1="1603.30" y1="1362.9" x2="1603.30" y2="1375.6"/>
<line x1="1951.15" y1="1362.9" x2="1951.15" y2="1375.6"/>
</g>
<g fill="#383838" font-size="36.67">
<text x="159.3" y="1316.65" text-anchor="end">0.00</text>
<text x="159.3" y="1011.78" text-anchor="end">0.25</text>
<text x="159.3" y="706.90" text-anchor="end">0.50</text>
<text x="159.3" y="402.03" text-anchor="end">0.75</text>
<text x="159.3" y="97.15" text-anchor="end">1.00</text>
<text x="211.90" y="1411.7" text-anchor="middle">138,610,000</text>
<text x="559.75" y="1411.7" text-anchor="middle">138,620,000</text>
<text x="907.60" y="1411.7" text-anchor="middle">138,630,000</text>
<text x="1255.45" y="1411.7" text-anchor="middle">138,640,000</text>
<text x="1603.30" y="1411.7" text-anchor="middle">138,650,000</text>
<text x="1951.15" y="1411.7" text-anchor="middle">138,660,000</text>
</g>
<text x="1201.70" y="1467.1" font-size="45.83" text-anchor="middle" fill="#000">Genomic location of MATR3 (GRCh37 chr5:138611778-138665135, gray = RefSeq exons)</text>
<text transform="translate(55.0 693.43) rotate(-90)" font-size="45.83" text-anchor="middle" fill="#000">CAPICE score (pathogenicity estimate)</text>
<text x="2292.5" y="412.7" font-size="45.83" fill="#000">Source</text>
<g font-size="36.67" fill="#000">
<text x="2373.9" y="480.8">CAPICE Testing</text>
<text x="2373.9" y="552.5">CAPICE Training</text>
<text x="2373.9" y="624.0">VKGL Oct. 2019</text>
</g>
<g fill="none" stroke="#000" stroke-width="2.7" stroke-linejoin="round" stroke-linecap="round">
<path d="M2329.40 454.90L2341.00 466.50L2329.40 478.10L2317.80 466.50Z" stroke="#000"/>
<rect x="2321.15" y="530.15" width="16.5" height="16.5" stroke="#000"/>
<path d="M2318.10 610.10H2340.70M2329.40 598.80V621.40M2321.41 602.11L2337.39 618.09M2321.41 618.09L2337.39 602.11" stroke="#000"/>
</g>
<text x="2292.5" y="773.8" font-size="45.83" fill="#000">Classification</text>
<g font-size="36.67" fill="#000">
<text x="2373.9" y="840.9">LB/B</text>
<text x="2373.9" y="912.9">LP/P</text>
<text x="2373.9" y="984.4">VUS</text>
</g>
<circle cx="2329.3" cy="827.5" r="9.5" fill="#22ff11"/>
<circle cx="2329.3" cy="899.5" r="9.5" fill="#ff0000"/>
<circle cx="2329.3" cy="971.2" r="9.5" fill="#0000ff"/>
</svg>
</body></html>
